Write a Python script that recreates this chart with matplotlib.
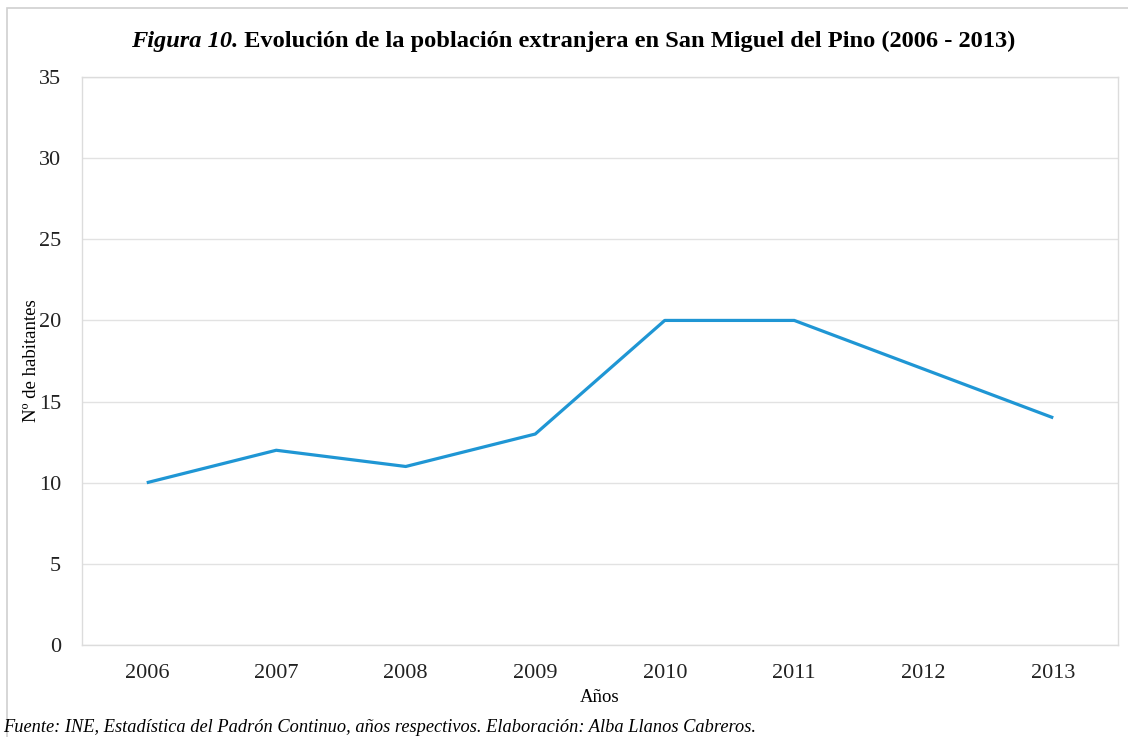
import matplotlib
matplotlib.use('agg')
import matplotlib.pyplot as plt
from matplotlib.patches import Rectangle

years = ['2006', '2007', '2008', '2009', '2010', '2011', '2012', '2013']
habitantes = [10, 12, 11, 13, 20, 20, 17, 14]
yticks = [0, 5, 10, 15, 20, 25, 30, 35]

plt.rcParams['font.family'] = ['Liberation Serif', 'DejaVu Serif']

W, H = 1128, 737
fig = plt.figure(figsize=(W / 100, H / 100), dpi=100)
# axes box in pixels: left 82, right 1118, top 77, bottom 645
ax = fig.add_axes([82 / W, 1 - 645 / H, (1118 - 82) / W, (645 - 77) / H])

# outer chart border
fig.patches.append(Rectangle((7 / W, -0.01), 1.02, 1 - 8 / H + 0.01,
                             transform=fig.transFigure, fill=False,
                             edgecolor='#d0d0d0', lw=1.2))

x = range(len(years))
ax.plot(x, habitantes, color='#1f96d4', lw=2.3, solid_capstyle='butt')

ax.set_xlim(-0.5, len(years) - 0.5)
ax.set_ylim(0, 35)
ax.set_yticks(yticks)
ax.set_xticks(list(x))
ax.set_xticklabels(years)
ax.tick_params(length=0, labelsize=16, colors='#222222')
ax.tick_params(axis='x', pad=14)
ax.tick_params(axis='y', pad=15)
ax.grid(axis='y', color='#e2e2e2', lw=1)
ax.set_axisbelow(True)
for s in ax.spines.values():
    s.set_color('#dcdcdc')
    s.set_linewidth(1)

ax.set_ylabel('N\u00ba de habitantes', fontsize=13.5, va='center')
ax.yaxis.set_label_coords((32 - 82) / 1036, 0.5)
ax.set_xlabel('A\u00f1os', fontsize=13.5, va='center')
ax.xaxis.set_label_coords(0.5, (645 - 698) / 568)

t1 = fig.text(131 / W, 1 - 42 / H, 'Figura 10.', fontsize=17.6,
              fontweight='bold', fontstyle='italic', va='center', ha='left')
fig.canvas.draw()
ax.annotate(' Evoluci\u00f3n de la poblaci\u00f3n extranjera en San Miguel del Pino (2006 - 2013)',
            xy=(1, 0), xycoords=t1, va='bottom', ha='left',
            fontsize=17.6, fontweight='bold', annotation_clip=False)

fig.text(3 / W, 1 - 727 / H,
         'Fuente: INE, Estad\u00edstica del Padr\u00f3n Continuo, a\u00f1os respectivos. '
         'Elaboraci\u00f3n: Alba Llanos Cabreros.',
         fontsize=13.2, fontstyle='italic', va='center', ha='left')

plt.savefig('out.png', dpi=100)
